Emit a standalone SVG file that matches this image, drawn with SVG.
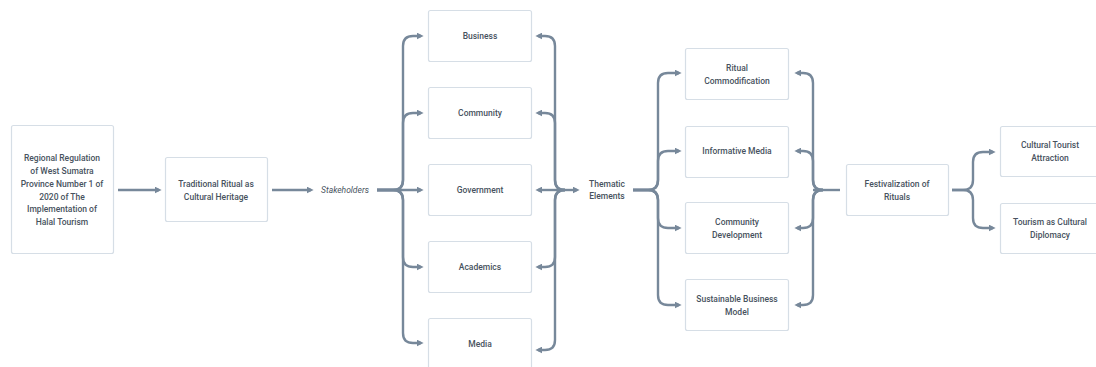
<svg xmlns="http://www.w3.org/2000/svg" width="1096" height="367" viewBox="0 0 1096 367">
<defs>
<style>
.box{fill:#ffffff;stroke:#d6dee6;stroke-width:1.2}
.t{font-family:Roboto,"Liberation Sans",sans-serif;font-size:8.5px;font-weight:500;fill:#47525e;text-anchor:middle}
.it{font-style:italic;font-weight:400}
.c{fill:none;stroke:#77889a;stroke-width:2.4}
</style>
<marker id="ah" viewBox="0 0 8 8" refX="5" refY="4" markerWidth="7" markerHeight="7" markerUnits="userSpaceOnUse" orient="auto">
<path d="M0,0 L8,4 L0,8 z" fill="#77889a"/>
</marker>
</defs>
<rect width="1096" height="367" fill="#ffffff"/>

<g id="connectors">
<path class="c" d="M118 190 H159" marker-end="url(#ah)"/>
<path class="c" d="M272 190 H311" marker-end="url(#ah)"/>
<!-- stakeholders fork -->
<path class="c" d="M377 190 H393 Q403 190 403 180 V46 Q403 36 413 36 H421" marker-end="url(#ah)"/>
<path class="c" d="M377 190 H393 Q403 190 403 180 V123 Q403 113 413 113 H421" marker-end="url(#ah)"/>
<path class="c" d="M377 190 H421" marker-end="url(#ah)"/>
<path class="c" d="M377 190 H393 Q403 190 403 200 V257 Q403 267 413 267 H421" marker-end="url(#ah)"/>
<path class="c" d="M377 190 H393 Q403 190 403 200 V333 Q403 343 413 343 H421" marker-end="url(#ah)"/>
<!-- stakeholders join -->
<path class="c" d="M565 190 Q555 190 555 180 V46 Q555 36 545 36 H538" marker-end="url(#ah)"/>
<path class="c" d="M565 190 Q555 190 555 180 V123 Q555 113 545 113 H538" marker-end="url(#ah)"/>
<path class="c" d="M555 190 H538" marker-end="url(#ah)"/>
<path class="c" d="M565 190 Q555 190 555 200 V257 Q555 267 545 267 H538" marker-end="url(#ah)"/>
<path class="c" d="M565 190 Q555 190 555 200 V340 Q555 350 545 350 H538" marker-end="url(#ah)"/>
<path class="c" d="M555 190 H577" marker-end="url(#ah)"/>
<!-- thematic fork -->
<path class="c" d="M633 190 H648 Q658 190 658 180 V83 Q658 73 668 73 H679" marker-end="url(#ah)"/>
<path class="c" d="M633 190 H648 Q658 190 658 180 V161 Q658 151 668 151 H679" marker-end="url(#ah)"/>
<path class="c" d="M633 190 H648 Q658 190 658 200 V218 Q658 228 668 228 H679" marker-end="url(#ah)"/>
<path class="c" d="M633 190 H648 Q658 190 658 200 V295 Q658 305 668 305 H679" marker-end="url(#ah)"/>
<!-- thematic join -->
<path class="c" d="M823 190 Q813 190 813 180 V83 Q813 73 803 73 H797" marker-end="url(#ah)"/>
<path class="c" d="M823 190 Q813 190 813 180 V161 Q813 151 803 151 H797" marker-end="url(#ah)"/>
<path class="c" d="M823 190 Q813 190 813 200 V218 Q813 228 803 228 H797" marker-end="url(#ah)"/>
<path class="c" d="M823 190 Q813 190 813 200 V295 Q813 305 803 305 H797" marker-end="url(#ah)"/>
<path class="c" d="M813 190 H840"/>
<!-- festivalization fork -->
<path class="c" d="M952 190 H963 Q973 190 973 180 V162 Q973 152 983 152 H993" marker-end="url(#ah)"/>
<path class="c" d="M952 190 H963 Q973 190 973 200 V218 Q973 228 983 228 H993" marker-end="url(#ah)"/>
</g>

<g id="regulation">
<rect class="box" x="11.5" y="125.5" width="102" height="128" rx="2"/>
<text class="t" x="62" y="161">Regional Regulation</text>
<text class="t" x="62" y="174">of West Sumatra</text>
<text class="t" x="62" y="187">Province Number 1 of</text>
<text class="t" x="62" y="200">2020 of The</text>
<text class="t" x="62" y="212">Implementation of</text>
<text class="t" x="62" y="225">Halal Tourism</text>
</g>

<g id="traditional-ritual">
<rect class="box" x="165.5" y="157.5" width="102" height="64" rx="2"/>
<text class="t" x="216" y="187">Traditional Ritual as</text>
<text class="t" x="216" y="200">Cultural Heritage</text>
</g>

<g id="stakeholders">
<text class="t it" x="345" y="193">Stakeholders</text>
</g>

<g id="business">
<rect class="box" x="428.5" y="10.5" width="103" height="51" rx="2"/>
<text class="t" x="480" y="39">Business</text>
</g>
<g id="community">
<rect class="box" x="428.5" y="87.5" width="103" height="51" rx="2"/>
<text class="t" x="480" y="116">Community</text>
</g>
<g id="government">
<rect class="box" x="428.5" y="164.5" width="103" height="51" rx="2"/>
<text class="t" x="480" y="193">Government</text>
</g>
<g id="academics">
<rect class="box" x="428.5" y="241.5" width="103" height="51" rx="2"/>
<text class="t" x="480" y="270">Academics</text>
</g>
<g id="media">
<rect class="box" x="428.5" y="318.5" width="103" height="51" rx="2"/>
<text class="t" x="480" y="347">Media</text>
</g>

<g id="thematic-elements">
<text class="t" x="607" y="187">Thematic</text>
<text class="t" x="607" y="199">Elements</text>
</g>

<g id="ritual-commodification">
<rect class="box" x="685.5" y="48.5" width="103" height="51" rx="2"/>
<text class="t" x="737" y="71">Ritual</text>
<text class="t" x="737" y="84">Commodification</text>
</g>
<g id="informative-media">
<rect class="box" x="685.5" y="126.5" width="103" height="51" rx="2"/>
<text class="t" x="737" y="154">Informative Media</text>
</g>
<g id="community-development">
<rect class="box" x="685.5" y="202.5" width="103" height="51" rx="2"/>
<text class="t" x="737" y="225">Community</text>
<text class="t" x="737" y="238">Development</text>
</g>
<g id="sustainable-business-model">
<rect class="box" x="685.5" y="279.5" width="103" height="51" rx="2"/>
<text class="t" x="737" y="302">Sustainable Business</text>
<text class="t" x="737" y="315">Model</text>
</g>

<g id="festivalization">
<rect class="box" x="846.5" y="164.5" width="102" height="51" rx="2"/>
<text class="t" x="897" y="187">Festivalization of</text>
<text class="t" x="897" y="200">Rituals</text>
</g>

<g id="cultural-tourist-attraction">
<rect class="box" x="1000.5" y="126.5" width="103" height="50" rx="2"/>
<text class="t" x="1050" y="148">Cultural Tourist</text>
<text class="t" x="1050" y="161">Attraction</text>
</g>
<g id="tourism-cultural-diplomacy">
<rect class="box" x="1000.5" y="203.5" width="103" height="50" rx="2"/>
<text class="t" x="1050" y="225">Tourism as Cultural</text>
<text class="t" x="1050" y="238">Diplomacy</text>
</g>
</svg>
